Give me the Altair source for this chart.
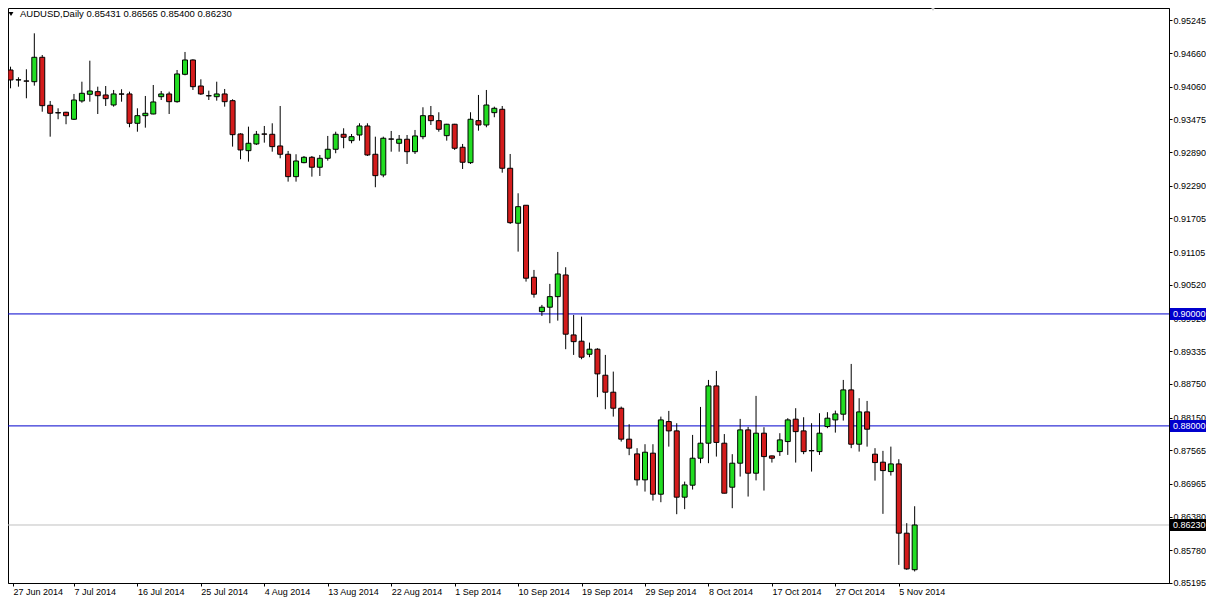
import altair as alt
import pandas as pd

# ---------------- data ----------------
opens = [
    0.94357, 0.94179, 0.94161, 0.94148, 0.94584, 0.93727, 0.93595, 0.93602, 0.93477, 0.93804,
    0.93923, 0.93970, 0.93911, 0.93732, 0.93929, 0.93929, 0.93405, 0.93541, 0.93571, 0.93880,
    0.93929, 0.93791, 0.94280, 0.94536, 0.94071, 0.93898, 0.93880, 0.93929, 0.93809, 0.93214,
    0.92916, 0.93036, 0.93214, 0.93209, 0.93000, 0.92852, 0.92452, 0.92702, 0.92798, 0.92620,
    0.92780, 0.92941, 0.93209, 0.93095, 0.93196, 0.93357, 0.92852, 0.92482, 0.93125, 0.93048,
    0.93120, 0.92898, 0.93166, 0.93541, 0.93452, 0.93184, 0.93388, 0.92977, 0.92702, 0.93452,
    0.93375, 0.93595, 0.93655, 0.92602, 0.91620, 0.91941, 0.90655, 0.90041, 0.90120, 0.90309,
    0.90696, 0.89625, 0.89513, 0.89280, 0.89370, 0.88905, 0.88602, 0.88316, 0.87763, 0.87500,
    0.87036, 0.87513, 0.86780, 0.88077, 0.87911, 0.86727, 0.86941, 0.87423, 0.87691, 0.88714,
    0.87691, 0.86905, 0.87334, 0.87929, 0.87155, 0.87870, 0.87464, 0.87541, 0.87720, 0.88120,
    0.87911, 0.87559, 0.87541, 0.87988, 0.88107, 0.88209, 0.88643, 0.87673, 0.88250, 0.87495,
    0.87352, 0.87184, 0.87321, 0.86084, 0.85431,
]
highs = [
    0.94416, 0.94227, 0.94370, 0.95012, 0.94625, 0.93804, 0.93673, 0.93610, 0.93929, 0.94148,
    0.94523, 0.94059, 0.94071, 0.94000, 0.94013, 0.93970, 0.93673, 0.93893, 0.94089, 0.93982,
    0.93970, 0.94357, 0.94679, 0.94548, 0.94191, 0.93988, 0.94148, 0.94018, 0.93834, 0.93227,
    0.93345, 0.93268, 0.93357, 0.93405, 0.93714, 0.92911, 0.92852, 0.92821, 0.92821, 0.92839,
    0.93179, 0.93255, 0.93316, 0.93214, 0.93405, 0.93405, 0.93166, 0.93166, 0.93268, 0.93196,
    0.93196, 0.93286, 0.93691, 0.93714, 0.93602, 0.93395, 0.93395, 0.93036, 0.93602, 0.93911,
    0.94000, 0.93702, 0.93714, 0.92857, 0.92155, 0.91945, 0.90786, 0.90161, 0.90536, 0.91107,
    0.90834, 0.89982, 0.89952, 0.89488, 0.89388, 0.89268, 0.88970, 0.88345, 0.88030, 0.87602,
    0.87673, 0.87673, 0.88166, 0.88268, 0.88048, 0.87005, 0.87839, 0.88339, 0.88821, 0.88982,
    0.87854, 0.87495, 0.88125, 0.87982, 0.88536, 0.87977, 0.87470, 0.87870, 0.88138, 0.88316,
    0.88155, 0.88048, 0.88227, 0.88245, 0.88273, 0.88821, 0.89107, 0.88495, 0.88446, 0.87602,
    0.87554, 0.87630, 0.87405, 0.86263, 0.86565,
]
lows = [
    0.94030, 0.94059, 0.93852, 0.94077, 0.93612, 0.93166, 0.93477, 0.93388, 0.93464, 0.93773,
    0.93791, 0.93571, 0.93714, 0.93702, 0.93791, 0.93334, 0.93255, 0.93327, 0.93566, 0.93821,
    0.93571, 0.93773, 0.94262, 0.94000, 0.93911, 0.93821, 0.93809, 0.93702, 0.92988, 0.92763,
    0.92720, 0.93018, 0.93059, 0.92898, 0.92780, 0.92363, 0.92363, 0.92691, 0.92452, 0.92464,
    0.92738, 0.92870, 0.92959, 0.93048, 0.93095, 0.92821, 0.92263, 0.92441, 0.92898, 0.92898,
    0.92679, 0.92857, 0.93120, 0.93375, 0.93255, 0.93095, 0.92929, 0.92589, 0.92679, 0.93273,
    0.93334, 0.93513, 0.92523, 0.91607, 0.91113, 0.90577, 0.90291, 0.89964, 0.89834, 0.89880,
    0.89370, 0.89268, 0.89191, 0.89227, 0.88513, 0.88298, 0.88166, 0.87720, 0.87477, 0.86934,
    0.86827, 0.86666, 0.86637, 0.87630, 0.86423, 0.86513, 0.86863, 0.87334, 0.87334, 0.87452,
    0.86795, 0.86530, 0.87095, 0.86738, 0.87027, 0.86845, 0.87345, 0.87464, 0.87482, 0.87345,
    0.87495, 0.87184, 0.87482, 0.87959, 0.87880, 0.88095, 0.87602, 0.87541, 0.87630, 0.87023,
    0.86429, 0.87113, 0.85518, 0.85429, 0.85400,
]
closes = [
    0.94179, 0.94182, 0.94158, 0.94584, 0.93720, 0.93584, 0.93590, 0.93541, 0.93821, 0.93941,
    0.93982, 0.93898, 0.93845, 0.93929, 0.93926, 0.93405, 0.93541, 0.93584, 0.93786, 0.93929,
    0.93791, 0.94286, 0.94536, 0.94059, 0.93929, 0.93895, 0.93929, 0.93791, 0.93202, 0.92929,
    0.93048, 0.93209, 0.93211, 0.92988, 0.92852, 0.92452, 0.92732, 0.92798, 0.92620, 0.92780,
    0.92941, 0.93209, 0.93155, 0.93166, 0.93357, 0.92839, 0.92470, 0.93138, 0.93122, 0.93120,
    0.92898, 0.93179, 0.93541, 0.93452, 0.93298, 0.93388, 0.92959, 0.92709, 0.93477, 0.93375,
    0.93732, 0.93673, 0.92602, 0.91630, 0.91916, 0.90638, 0.90352, 0.90120, 0.90309, 0.90714,
    0.89638, 0.89505, 0.89227, 0.89370, 0.88929, 0.88602, 0.88316, 0.87763, 0.87602, 0.87036,
    0.87530, 0.86780, 0.88107, 0.87911, 0.86727, 0.86946, 0.87423, 0.87691, 0.88714, 0.87705,
    0.86798, 0.87334, 0.87929, 0.87155, 0.87870, 0.87452, 0.87423, 0.87750, 0.88107, 0.87898,
    0.87541, 0.87555, 0.87870, 0.88138, 0.88214, 0.88643, 0.87673, 0.88250, 0.87941, 0.87345,
    0.87202, 0.87321, 0.86084, 0.85446, 0.86230,
]

x_labels = ["27 Jun 2014", "7 Jul 2014", "16 Jul 2014", "25 Jul 2014", "4 Aug 2014",
            "13 Aug 2014", "22 Aug 2014", "1 Sep 2014", "10 Sep 2014", "19 Sep 2014",
            "29 Sep 2014", "8 Oct 2014", "17 Oct 2014", "27 Oct 2014", "5 Nov 2014"]
bars_per_label = 8

y_ticks = [0.95245, 0.94660, 0.94060, 0.93475, 0.92890, 0.92290, 0.91705, 0.91105,
           0.90520, 0.89920, 0.89335, 0.88750, 0.88150, 0.87565, 0.86965, 0.86380,
           0.85780, 0.85195]

level_prices = [0.90000, 0.88000]
bid_price = 0.86230
symbol_text = "AUDUSD,Daily  0.85431 0.86565 0.85400 0.86230"

# ---------------- styling ----------------
FONT = "Liberation Sans"
FS = 9
GREEN = "#22dd22"
RED = "#d41c1c"
BLUE = "#0000cd"
W, H = 1161, 575
PAD_R, PAD_B = 37, 14

n = len(opens)
df = pd.DataFrame({"i": list(range(n)), "open": opens, "high": highs,
                   "low": lows, "close": closes})
df["dir"] = ["up" if c >= o else "down" for o, c in zip(opens, closes)]

x0 = 0.3125
xs = alt.Scale(domain=[x0, x0 + W / 8], nice=False, zero=False)
ys = alt.Scale(domain=[0.85194, 0.954643], nice=False, zero=False)

label_expr = "[" + ",".join("'%s'" % s for s in x_labels) + "][round(datum.value / %d)]" % bars_per_label
x_vals = [x0] + [bars_per_label * k for k in range(1, len(x_labels))]
x_axis = alt.Axis(values=x_vals,
                  labelExpr=label_expr, labelAlign="left", labelOffset=0, labelPadding=1,
                  tickSize=3, tickColor="black", domainColor="black", labelColor="black",
                  labelFont=FONT, labelFontSize=FS, grid=False, title=None,
                  labelFlush=False, labelOverlap=False, labelBound=False)
y_axis = alt.Axis(orient="right", values=y_ticks, format=".5f", tickSize=3,
                  labelPadding=1, tickColor="black", domainColor="black",
                  labelColor="black", labelFont=FONT, labelFontSize=FS, grid=False,
                  title=None, labelFlush=False, labelOverlap=False, labelBound=False)

wicks = alt.Chart(df).mark_rule(color="black", strokeWidth=1).encode(
    x=alt.X("i:Q", scale=xs, axis=x_axis),
    y=alt.Y("low:Q", scale=ys, axis=y_axis),
    y2="high:Q",
)

bodies = alt.Chart(df).mark_bar(size=5, stroke="black", strokeWidth=1).encode(
    x=alt.X("i:Q", scale=xs, axis=x_axis),
    y=alt.Y("open:Q", scale=ys, axis=y_axis),
    y2="close:Q",
    fill=alt.Fill("dir:N", scale=alt.Scale(domain=["up", "down"], range=[GREEN, RED]),
                  legend=None),
)

levels_df = pd.DataFrame({"price": level_prices})
levels = alt.Chart(levels_df).mark_rule(color=BLUE, strokeWidth=1).encode(
    y=alt.Y("price:Q", scale=ys, axis=y_axis))

bid_df = pd.DataFrame({"price": [bid_price]})
bid_line = alt.Chart(bid_df).mark_rule(color="#c0c0c0", strokeWidth=1).encode(
    y=alt.Y("price:Q", scale=ys, axis=y_axis))

tags_df = pd.DataFrame({"price": level_prices + [bid_price],
                        "bg": [BLUE, BLUE, "#000000"]})
tag_boxes = alt.Chart(tags_df).transform_calculate(
    top="datum.price + 0.00107", bot="datum.price - 0.00107"
).mark_rect().encode(
    x=alt.value(W + 1), x2=alt.value(W + PAD_R),
    y=alt.Y("top:Q", scale=ys, axis=y_axis), y2="bot:Q",
    fill=alt.Fill("bg:N", scale=None, legend=None),
)
tag_text = alt.Chart(tags_df).mark_text(
    align="left", baseline="middle", font=FONT, fontSize=FS, color="white"
).encode(
    x=alt.value(W + 4),
    y=alt.Y("price:Q", scale=ys, axis=y_axis),
    text=alt.Text("price:Q", format=".5f"),
)

title_df = pd.DataFrame({"t": [symbol_text]})
title_txt = alt.Chart(title_df).mark_text(
    align="left", baseline="middle", font=FONT, fontSize=9.5, color="black"
).encode(x=alt.value(12), y=alt.value(6), text="t:N")
title_tri = alt.Chart(title_df).mark_point(
    shape="triangle-down", filled=True, color="black", size=24, opacity=1
).encode(x=alt.value(3), y=alt.value(6))
shift_tri = alt.Chart(title_df).mark_point(
    shape="triangle-down", filled=True, color="#c8c8c8", size=50, opacity=1
).encode(x=alt.value(925), y=alt.value(0))

chart = alt.layer(
    bid_line, levels, wicks, bodies, tag_boxes, tag_text, title_tri, title_txt, shift_tri
).properties(
    width=W, height=H,
    padding={"left": 0, "top": 0, "right": PAD_R, "bottom": PAD_B},
    autosize=alt.AutoSizeParams(type="none"),
    background="white",
).configure_view(stroke="black", strokeWidth=1)

chart.save("out.html", embed_options={"renderer": "svg", "actions": False})
